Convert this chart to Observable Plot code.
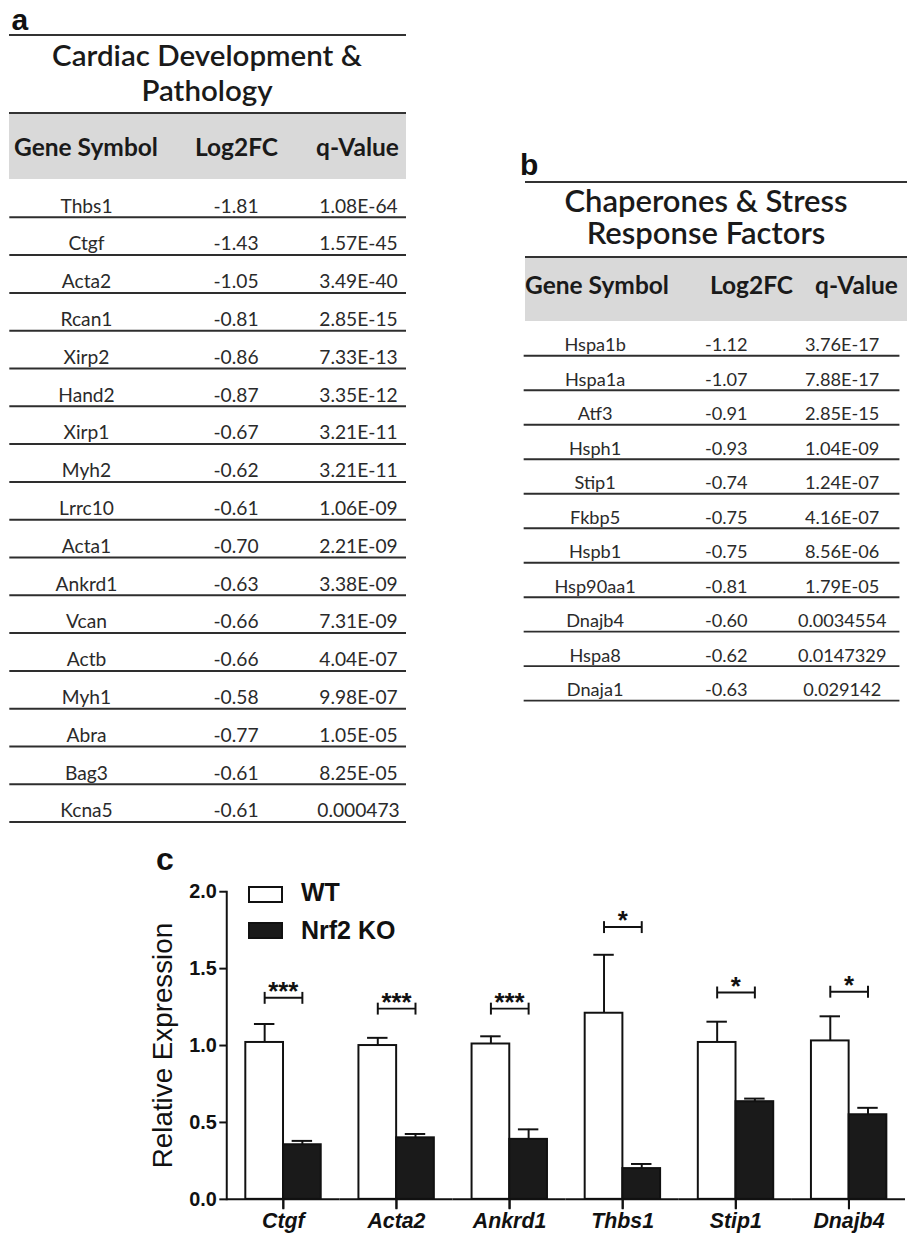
<!DOCTYPE html>
<html><head><meta charset="utf-8">
<script src="https://cdn.jsdelivr.net/npm/d3@7"></script>
<script src="https://cdn.jsdelivr.net/npm/@observablehq/plot@0.6"></script>
<style>
html,body{margin:0;padding:0;background:#fff;overflow:hidden}
#page{position:relative;width:907px;height:1237px;overflow:hidden;background:#fff}
.abs{position:absolute;white-space:nowrap}
.ml{white-space:pre;text-align:center}
</style></head><body><div id="page"></div>
<script>
// ---------------- data ----------------
const tableColumns = ["Gene Symbol", "Log2FC", "q-Value"];

const tableATitle = ["Cardiac Development &", "Pathology"];
const tableAGenes = ["Thbs1","Ctgf","Acta2","Rcan1","Xirp2","Hand2","Xirp1","Myh2","Lrrc10","Acta1","Ankrd1","Vcan","Actb","Myh1","Abra","Bag3","Kcna5"];
const tableALog2FC = [-1.81,-1.43,-1.05,-0.81,-0.86,-0.87,-0.67,-0.62,-0.61,-0.70,-0.63,-0.66,-0.66,-0.58,-0.77,-0.61,-0.61];
const tableAQValue = ["1.08E-64","1.57E-45","3.49E-40","2.85E-15","7.33E-13","3.35E-12","3.21E-11","3.21E-11","1.06E-09","2.21E-09","3.38E-09","7.31E-09","4.04E-07","9.98E-07","1.05E-05","8.25E-05","0.000473"];

const tableBTitle = ["Chaperones & Stress", "Response Factors"];
const tableBGenes = ["Hspa1b","Hspa1a","Atf3","Hsph1","Stip1","Fkbp5","Hspb1","Hsp90aa1","Dnajb4","Hspa8","Dnaja1"];
const tableBLog2FC = [-1.12,-1.07,-0.91,-0.93,-0.74,-0.75,-0.75,-0.81,-0.60,-0.62,-0.63];
const tableBQValue = ["3.76E-17","7.88E-17","2.85E-15","1.04E-09","1.24E-07","4.16E-07","8.56E-06","1.79E-05","0.0034554","0.0147329","0.029142"];

const qpcrGenes = ["Ctgf","Acta2","Ankrd1","Thbs1","Stip1","Dnajb4"];
const groups = ["WT","Nrf2 KO"];
const wtMean = [1.02,1.00,1.01,1.21,1.02,1.03];
const wtSEM  = [0.12,0.05,0.05,0.38,0.135,0.16];
const koMean = [0.355,0.40,0.39,0.20,0.635,0.55];
const koSEM  = [0.025,0.025,0.065,0.03,0.02,0.045];
const sigLabels = ["***","***","***","*","*","*"];
const sigLevels = [1.31,1.24,1.24,1.77,1.345,1.35];
const yTicks = [0,0.5,1,1.5,2];
const yLabel = "Relative Expression";

// ---------------- helpers ----------------
const page = document.getElementById("page");
const ARIAL = "'Liberation Sans', Arial, Helvetica, sans-serif";
const LATO = "Lato, 'Open Sans', sans-serif";
const METRICS = {arial: [0.905, 0.212], lato: [0.987, 0.213]};

// y = baseline of the first line
function put(text, {x, y, anchor = "start", family = ARIAL, m = "arial", size, weight = 400, style = "normal", color = "#111", lh = size}) {
  const d = document.createElement("div");
  d.className = "abs" + (text.includes("\n") ? " ml" : "");
  d.textContent = text;
  const [a, de] = METRICS[m];
  const firstBase = (lh - (a + de) * size) / 2 + a * size;
  Object.assign(d.style, {fontFamily: family, fontSize: size + "px", fontWeight: weight, fontStyle: style,
    color, lineHeight: lh + "px", top: (y - firstBase) + "px", left: x + "px"});
  if (anchor === "middle") d.style.transform = "translateX(-50%)";
  page.appendChild(d);
  return d;
}
function box(css) {
  const d = document.createElement("div");
  d.className = "abs";
  Object.assign(d.style, css);
  page.appendChild(d);
  return d;
}
function place(node, left, top) {
  const w = document.createElement("div");
  w.className = "abs";
  w.style.left = left + "px"; w.style.top = top + "px";
  w.appendChild(node);
  page.appendChild(w);
}

// ---------------- tables ----------------
function tablePlot({genes, fc, q, rowStep, colRange, width, mL, mR}) {
  const rows = genes.map((g, i) => ({row: i, gene: g}));
  const cells = genes.flatMap((g, i) => [
    {row: i, col: tableColumns[0], text: g},
    {row: i, col: tableColumns[1], text: fc[i].toFixed(2)},
    {row: i, col: tableColumns[2], text: q[i]}
  ]);
  const mT = 4, mB = 4;
  const height = mT + mB + genes.length * rowStep;
  const opts = (xType) => ({
    width, height, marginTop: mT, marginBottom: mB, marginLeft: mL, marginRight: mR,
    style: {background: "transparent", fontFamily: LATO, overflow: "visible"},
    x: xType === "ordinal"
      ? {type: "ordinal", domain: tableColumns, range: colRange, axis: null}
      : {type: "point", domain: tableColumns, range: [colRange[0], colRange[2]], axis: null},
    y: {domain: [0, genes.length], reverse: true, axis: null},
    marks: [
      Plot.ruleY(rows, {y: d => d.row + 1, stroke: "#2e2e2e", strokeWidth: 2}),
      Plot.text(cells, {x: "col", y: d => d.row + 1, text: "text", dy: -10.9, fontSize: 19.2, fill: "#2a2a2a", fontFamily: LATO})
    ]
  });
  try { return Plot.plot(opts("ordinal")); } catch (e) { return Plot.plot(opts("point")); }
}

const HEAD = 24.5;
// Panel a
put("a", {x: 11.5, y: 30.7, size: 30, weight: 700});
box({left: "9.3px", top: "34px", width: "396.7px", height: "2px", background: "#333"});
put(tableATitle.join("\n"), {x: 207, y: 67, anchor: "middle", family: LATO, m: "lato", size: 29.5, lh: 34.7, weight: 600, color: "#1a1a1a"});
box({left: "9.3px", top: "112.3px", width: "396.7px", height: "66.6px", boxSizing: "border-box", background: "#d9d9d9", borderTop: "2px solid #333"});
[86, 236.5, 357.5].forEach((cx, i) => put(tableColumns[i], {x: cx, y: 156.7, anchor: "middle", family: LATO, m: "lato", size: HEAD, weight: 700, color: "#1a1a1a"}));
place(tablePlot({genes: tableAGenes, fc: tableALog2FC, q: tableAQValue, rowStep: 37.8, colRange: [86, 235.5, 358], width: 420, mL: 9.3, mR: 14}), 0, 174.9);

// Panel b
put("b", {x: 520, y: 175, size: 30, weight: 700});
box({left: "525px", top: "180.7px", width: "382px", height: "2px", background: "#333"});
put(tableBTitle.join("\n"), {x: 706, y: 213.3, anchor: "middle", family: LATO, m: "lato", size: 31, lh: 31.7, weight: 600, color: "#1a1a1a"});
box({left: "525px", top: "255.7px", width: "382px", height: "65.2px", boxSizing: "border-box", background: "#d9d9d9", borderTop: "2px solid #333"});
[597, 751.5, 856.5].forEach((cx, i) => put(tableColumns[i], {x: cx, y: 295, anchor: "middle", family: LATO, m: "lato", size: HEAD, weight: 700, color: "#1a1a1a"}));
place(tablePlot({genes: tableBGenes, fc: tableBLog2FC, q: tableBQValue, rowStep: 36.44, colRange: [100, 238.5, 361], width: 430, mL: 25, mR: 8}), 500, 316.9);

// ---------------- panel c: bar chart ----------------
put("c", {x: 156, y: 870, size: 32, weight: 700});

const bars = qpcrGenes.flatMap((g, i) => [
  {gene: g, group: groups[0], mean: wtMean[i], sem: wtSEM[i]},
  {gene: g, group: groups[1], mean: koMean[i], sem: koSEM[i]}
]);
const sig = qpcrGenes.map((g, i) => ({gene: g, label: sigLabels[i], level: sigLevels[i]}));
const sigEnds = sig.flatMap(d => groups.map(grp => ({gene: d.gene, group: grp, level: d.level})));
const vline = {draw(ctx, size) { const r = Math.sqrt(size / Math.PI); ctx.moveTo(0, -r); ctx.lineTo(0, r); }};

const chart = Plot.plot({
  width: 914, height: 407,
  marginTop: 61.7, marginBottom: 35.3, marginLeft: 226.8, marginRight: 0,
  style: {fontFamily: ARIAL, color: "#111", background: "transparent", overflow: "visible"},
  fx: {domain: qpcrGenes, padding: 0, label: null, axis: null},
  x: {domain: groups, axis: null, paddingInner: 0, paddingOuter: 0.493},
  y: {domain: [0, 2], axis: null},
  color: {domain: groups, range: ["#ffffff", "#1a1a1a"]},
  marks: [
    Plot.barY(bars, {fx: "gene", x: "group", y: "mean", fill: "group", stroke: "#111", strokeWidth: 2}),
    Plot.ruleX(bars, {fx: "gene", x: "group", y1: "mean", y2: d => d.mean + d.sem, stroke: "#111", strokeWidth: 2}),
    Plot.tickY(bars, {fx: "gene", x: "group", y: d => d.mean + d.sem, stroke: "#111", strokeWidth: 2, insetLeft: 8.7, insetRight: 8.7}),
    Plot.link(sig, {fx: "gene", x1: () => groups[0], x2: () => groups[1], y1: "level", y2: "level", stroke: "#111", strokeWidth: 2}),
    Plot.dot(sigEnds, {fx: "gene", x: "group", y: "level", symbol: vline, r: 6, stroke: "#111", strokeWidth: 2, fill: "none"}),
    Plot.text(sig, {fx: "gene", y: "level", text: "label", fontSize: 26, fontWeight: "bold", dy: -6, fill: "#111"}),
    Plot.ruleY([0], {stroke: "#111", strokeWidth: 2}),
    // category tick marks below the baseline, one per facet (centred in the facet)
    Plot.dot(qpcrGenes, {fx: d => d, y: () => 0, symbol: vline, r: 5, dy: 5, stroke: "#111", strokeWidth: 2, fill: "none"}),
    Plot.frame({anchor: "left", facetAnchor: "left", stroke: "#111", strokeWidth: 2}),
    Plot.axisY({ticks: yTicks, tickFormat: d3.format(".1f"), tickSize: 7, tickPadding: 3, fontSize: 20, fontWeight: "bold",
      strokeWidth: 2, label: yLabel, labelAnchor: "center", labelArrow: "none", labelOffset: 75}),
    Plot.axisFx({anchor: "bottom", label: null, tickSize: 10, tickPadding: 4, fontSize: 21.5, fontWeight: "bold", fontStyle: "italic", strokeWidth: 2})
  ]
});
const lab = chart.querySelector('[aria-label="y-axis label"]');
if (lab) { lab.setAttribute("font-size", 28); lab.setAttribute("font-weight", "normal"); }
place(chart, 0, 830);

// legend (inside plot area, top-left)
box({left: "247.7px", top: "885.7px", width: "35.6px", height: "17.6px", boxSizing: "border-box", border: "2px solid #111", background: "#fff"});
box({left: "247.7px", top: "921.7px", width: "35.6px", height: "17.6px", boxSizing: "border-box", border: "2px solid #111", background: "#1a1a1a"});
put(groups[0], {x: 301, y: 901.6, size: 25, weight: 700});
put(groups[1], {x: 301, y: 939, size: 25, weight: 700});
</script></body></html>
